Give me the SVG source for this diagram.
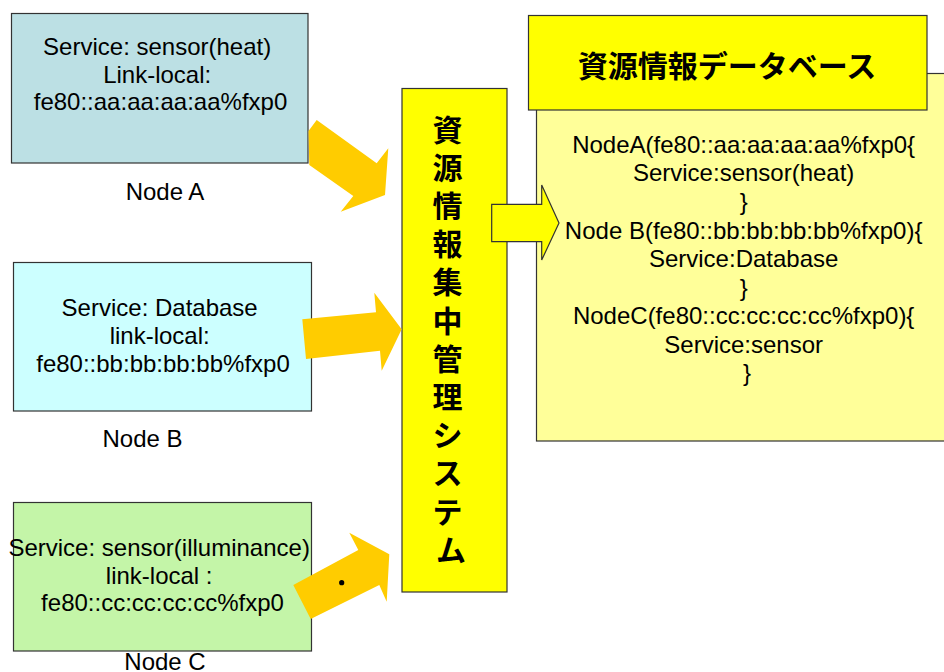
<svg xmlns="http://www.w3.org/2000/svg" width="944" height="672" viewBox="0 0 944 672">
  <style>
    .lat { font-family: "Liberation Sans", Arial, sans-serif; font-size: 24px; fill: #000; text-anchor: middle; }
    .jp { font-family: "Noto Sans CJK JP", "Noto Sans CJK SC", sans-serif; font-weight: bold; fill: #000; text-anchor: middle; }
    .box { stroke: #333; stroke-width: 1.2; }
    .flow { fill: #FFCC00; stroke: none; }
    .push { fill: #FFFF00; stroke: #333; stroke-width: 1.2; stroke-linejoin: miter; }
  </style>
  <rect width="944" height="672" fill="#fff"/>

  <!-- resource database: body panel then title banner -->
  <g id="database">
    <rect class="box" x="536.5" y="73.5" width="420" height="367.5" fill="#FFFF99"/>
    <rect class="box" x="528.5" y="15.5" width="398.5" height="94.5" fill="#FFFF00"/>
    <text class="jp" x="727" y="77" font-size="30">資源情報データベース</text>
    <text class="lat">
      <tspan x="747" y="152.5">NodeA(fe80::aa:aa:aa:aa%fxp0{</tspan>
      <tspan x="747" y="181">Service:sensor(heat)</tspan>
      <tspan x="747" y="209.5">}</tspan>
      <tspan x="747" y="238.5">Node B(fe80::bb:bb:bb:bb%fxp0){</tspan>
      <tspan x="747" y="267">Service:Database</tspan>
      <tspan x="747" y="295.5">}</tspan>
      <tspan x="747" y="324">NodeC(fe80::cc:cc:cc:cc%fxp0){</tspan>
      <tspan x="747" y="352.5">Service:sensor</tspan>
      <tspan x="747" y="381">}</tspan>
    </text>
  </g>

  <!-- central collection system, vertical label -->
  <g id="manager">
    <rect class="box" x="402" y="88.5" width="105" height="503.5" fill="#FFFF00"/>
    <text class="jp" font-size="30">
      <tspan x="451" y="140.5">資</tspan>
      <tspan x="451" y="178.7">源</tspan>
      <tspan x="451" y="216.9">情</tspan>
      <tspan x="451" y="255.1">報</tspan>
      <tspan x="451" y="293.3">集</tspan>
      <tspan x="451" y="331.5">中</tspan>
      <tspan x="451" y="369.7">管</tspan>
      <tspan x="451" y="407.9">理</tspan>
      <tspan x="451" y="446.1">シ</tspan>
      <tspan x="451" y="484.3">ス</tspan>
      <tspan x="451" y="522.5">テ</tspan>
      <tspan x="451" y="560.7">ム</tspan>
    </text>
  </g>

  <g id="nodeA">
    <rect class="box" x="11.5" y="13.5" width="296.5" height="149.5" fill="#BCE0E4"/>
    <text class="lat">
      <tspan x="160.5" y="55">Service: sensor(heat)</tspan>
      <tspan x="160.5" y="82.5">Link-local:</tspan>
      <tspan x="160.5" y="110">fe80::aa:aa:aa:aa%fxp0</tspan>
    </text>
    <text class="lat" x="165" y="200">Node A</text>
  </g>

  <g id="nodeB">
    <rect class="box" x="13.5" y="262.5" width="298" height="148.5" fill="#CCFFFF"/>
    <text class="lat">
      <tspan x="163" y="316">Service: Database</tspan>
      <tspan x="163" y="344">link-local:</tspan>
      <tspan x="163" y="372">fe80::bb:bb:bb:bb%fxp0</tspan>
    </text>
    <text class="lat" x="142.5" y="447">Node B</text>
  </g>

  <g id="nodeC">
    <rect class="box" x="13.5" y="502.5" width="298" height="148.5" fill="#C4F5A8"/>
    <text class="lat">
      <tspan x="162.5" y="556">Service: sensor(illuminance)</tspan>
      <tspan x="162.5" y="584">link-local :</tspan>
      <tspan x="162.5" y="611">fe80::cc:cc:cc:cc%fxp0</tspan>
    </text>
    <text class="lat" x="165" y="670">Node C</text>
  </g>

  <!-- block arrows: nodes report to the manager, manager feeds the database -->
  <g id="connectors">
    <polygon class="flow" points="316.7,120 376.7,163.3 388.3,148.3 385,195 340.7,211.7 353.3,196 309.3,165 308.5,131"/>
    <polygon class="flow" points="302.3,319.3 376,312.3 374.3,292.7 401.7,329.3 381.7,370.7 380,350.7 306,359"/>
    <polygon class="flow" points="293.3,585 358.3,550 349.3,532.7 389.3,554.3 386.7,601.7 379.3,585 310.7,619"/>
    <circle cx="341.7" cy="582.7" r="2.6" fill="#000"/>
    <polygon class="push" points="491.7,204.3 541.7,204.3 541.7,185 559,223 541.7,260 541.7,241.7 491.7,241.7"/>
  </g>
</svg>
